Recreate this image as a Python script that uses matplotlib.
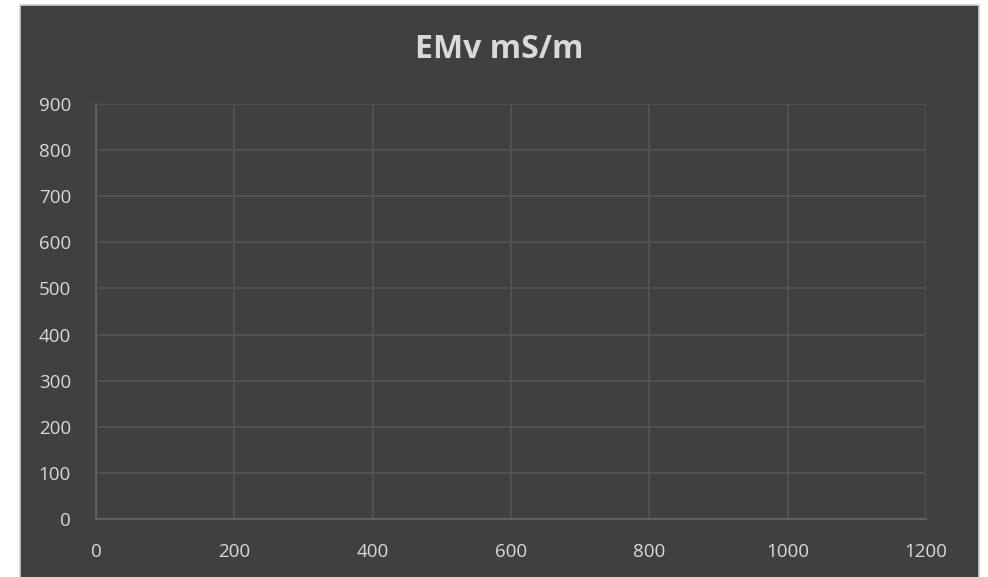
import matplotlib.pyplot as plt
from matplotlib.patches import Rectangle

# axis ticks and the (empty) EMv series
x_ticks = [0, 200, 400, 600, 800, 1000, 1200]
y_ticks = [0, 100, 200, 300, 400, 500, 600, 700, 800, 900]
distance = []
emv = []

plt.rcParams['font.family'] = ['Open Sans', 'DejaVu Sans']

W, H = 988, 577
fig = plt.figure(figsize=(W / 100, H / 100), dpi=100, facecolor='white')

# background axes holding the dark chart panel with thin light border
bg = fig.add_axes([0, 0, 1, 1], zorder=0)
bg.set_xlim(0, W)
bg.set_ylim(H, 0)
bg.axis('off')
bg.add_patch(Rectangle((20, 5), 979 - 20, H + 5, facecolor='#404040',
                       edgecolor='#d0d0d0', linewidth=1.2))

ax = fig.add_axes([96 / W, 58 / H, (926 - 96) / W, (519 - 104) / H], zorder=1)
ax.set_facecolor('none')
ax.plot(distance, emv, color='#5b9bd5')

ax.set_xlim(0, 1200)
ax.set_ylim(0, 900)
ax.set_xticks(x_ticks)
ax.set_yticks(y_ticks)
ax.grid(True, color='#555555', linewidth=1.2)
ax.set_axisbelow(True)

for side in ['top', 'right']:
    ax.spines[side].set_visible(False)
for side in ['left', 'bottom']:
    ax.spines[side].set_color('#666666')
    ax.spines[side].set_linewidth(1.2)

ax.tick_params(axis='both', length=0, labelsize=13.5, labelcolor='#d9d9d9')
ax.tick_params(axis='y', pad=18)
ax.tick_params(axis='x', pad=17)

fig.text(499.5 / W, 1 - 49 / H, 'EMv mS/m', ha='center', va='center',
         fontsize=23, fontweight='bold', color='#d9d9d9')

fig.savefig('out.png', dpi=100, facecolor=fig.get_facecolor())
